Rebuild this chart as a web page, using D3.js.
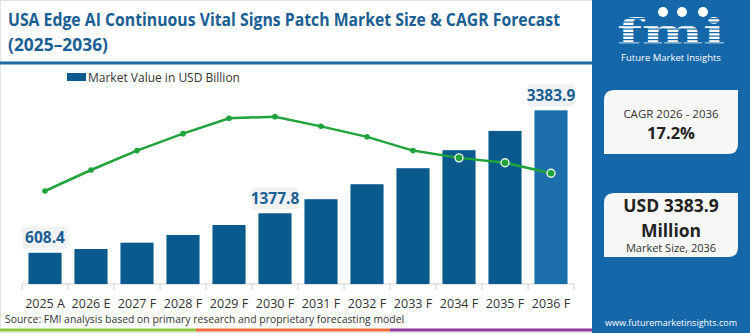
<!DOCTYPE html>
<html><head><meta charset="utf-8">
<script src="https://cdn.jsdelivr.net/npm/d3@7"></script>
<style>body{margin:0;background:#fff}svg{display:block}</style>
</head><body>
<svg id="c" width="750" height="333"></svg>
<script>
const categories = ["2025 A","2026 E","2027 F","2028 F","2029 F","2030 F","2031 F","2032 F","2033 F","2034 F","2035 F","2036 F"];
const marketValues = [608.4, 682, 805, 955, 1150, 1377.8, 1652, 1944, 2256, 2607, 2983, 3383.9];
const trendValues = [10.0, 12.6, 15.0, 17.1, 19.0, 19.2, 18.0, 16.7, 15.0, 14.1, 13.5, 12.2];
const labelledYears = ["2025 A","2030 F","2036 F"];
const titleLines = ["USA Edge AI Continuous Vital Signs Patch Market Size & CAGR Forecast","(2025\u20132036)"];
const legendLabel = "Market Value in USD Billion";
const cagrLabel = "CAGR 2026 - 2036", cagrValue = "17.2%";
const sizeLines = ["USD 3383.9","Million"], sizeCaption = "Market Size, 2036";
const sourceText = "Source: FMI analysis based on primary research and proprietary forecasting model";

const FONT = "'Open Sans', sans-serif";
const svg = d3.select("#c");
const blue = "#0a5a8e", blueLast = "#1c6fab", titleBlue = "#1a5e94", green = "#1fa33a";

// chart frame
svg.append("rect").attr("x",0.5).attr("y",0.5).attr("width",592).attr("height",332).attr("fill","#fff").attr("stroke","#e2e2e2");

// title
svg.append("text").attr("x",8).attr("y",26).attr("font-family",FONT).attr("font-weight",700)
  .attr("font-size",17.5).attr("fill",titleBlue).attr("textLength",552).attr("lengthAdjust","spacingAndGlyphs").text(titleLines[0]);
svg.append("text").attr("x",8).attr("y",51).attr("font-family",FONT).attr("font-weight",700)
  .attr("font-size",17.5).attr("fill",titleBlue).attr("textLength",100).attr("lengthAdjust","spacingAndGlyphs").text(titleLines[1]);
svg.append("rect").attr("x",0).attr("y",61.5).attr("width",592).attr("height",3).attr("fill","#1b6aa5");

// legend
svg.append("rect").attr("x",67).attr("y",73).attr("width",19).attr("height",8).attr("fill",blue);
svg.append("text").attr("x",88).attr("y",81.5).attr("font-family",FONT).attr("font-size",12).attr("fill","#333").text(legendLabel);

const x = d3.scaleBand().domain(categories).range([22,574]).paddingInner(0.28).paddingOuter(0.14);
const y = d3.scaleLinear().domain([0,4000]).range([284,78.7]);
const yT = d3.scaleLinear().domain([10,20]).range([191,110.2]);

// axis
const axis = svg.append("g").attr("transform","translate(0,284)");
axis.append("line").attr("x1",22).attr("x2",574).attr("stroke","#d0d0d0");
axis.selectAll(".tk").data(d3.range(categories.length+1)).join("line")
  .attr("x1",i=>22+i*x.step()).attr("x2",i=>22+i*x.step()).attr("y1",0).attr("y2",6).attr("stroke","#d0d0d0");
axis.selectAll(".lb").data(categories).join("text")
  .attr("x",d=>x(d)+x.bandwidth()/2).attr("y",24).attr("text-anchor","middle")
  .attr("font-family",FONT).attr("font-size",12.5).attr("fill","#333").text(d=>d);

// bars
svg.append("g").selectAll("rect").data(categories).join("rect")
  .attr("x",d=>x(d)).attr("width",x.bandwidth())
  .attr("y",(d,i)=>y(marketValues[i])).attr("height",(d,i)=>284-y(marketValues[i]))
  .attr("fill",(d,i)=>i===categories.length-1?blueLast:blue);

// value labels
const lab = svg.append("g").selectAll("g").data(labelledYears).join("g")
  .attr("transform",d=>{const i=categories.indexOf(d);return `translate(${x(d)+x.bandwidth()/2},${y(marketValues[i])-4})`;});
lab.append("rect").attr("x",-23).attr("y",-22).attr("width",46).attr("height",22).attr("fill","#f0f1f3");
lab.append("text").attr("y",-5.5).attr("text-anchor","middle").attr("font-family",FONT).attr("font-weight",700)
  .attr("font-size",15.5).attr("fill",titleBlue).text(d=>marketValues[categories.indexOf(d)].toFixed(1));

// trend line
const line = d3.line().x((d,i)=>x(categories[i])+x.bandwidth()/2).y(d=>yT(d));
svg.append("path").datum(trendValues).attr("d",line).attr("fill","none").attr("stroke",green).attr("stroke-width",2.5);
svg.append("g").selectAll("circle").data(trendValues).join("circle")
  .attr("cx",(d,i)=>x(categories[i])+x.bandwidth()/2).attr("cy",d=>yT(d))
  .attr("r",(d,i)=>i>=9?4:2.8).attr("fill",green)
  .attr("stroke",(d,i)=>i>=9?"#e8f5ea":"none").attr("stroke-width",1.4);

// source and strip
svg.append("text").attr("x",5).attr("y",323).attr("font-family",FONT).attr("font-size",10.4).attr("fill","#333").text(sourceText);
svg.append("rect").attr("x",0).attr("y",328.5).attr("width",196).attr("height",3).attr("fill","#8cc63f");
svg.append("rect").attr("x",196).attr("y",328.5).attr("width",194).attr("height",3).attr("fill","#f26b3a");
svg.append("rect").attr("x",390).attr("y",328.5).attr("width",203).attr("height",3).attr("fill","#8b3a9c");

// right panel
const P = svg.append("g");
P.append("rect").attr("x",592).attr("y",0).attr("width",158).attr("height",333).attr("fill","#1467a8");
// logo
const logo = P.append("g");
logo.append("text").attr("x",617).attr("y",44).attr("font-family","'DejaVu Serif', serif")
  .attr("font-weight",700).attr("font-size",36).attr("fill","#fff").attr("textLength",108).attr("lengthAdjust","spacingAndGlyphs").text("fmi");
logo.selectAll(".st").data(d3.range(8)).join("rect").attr("x",615).attr("y",i=>18+i*3.5).attr("width",115).attr("height",1.2).attr("fill","#1467a8");
[[663,12],[682,12],[703,12]].forEach(([cx,cy])=>logo.append("circle").attr("cx",cx).attr("cy",cy).attr("r",5).attr("fill","#fff"));
logo.append("text").attr("x",671).attr("y",61).attr("text-anchor","middle").attr("font-family",FONT).attr("font-size",9.5).attr("fill","#fff").text("Future Market Insights");

function card(y0,h){
  const x0=604,w=134,r=10;
  P.append("path").attr("d",`M${x0+r},${y0}H${x0+w}V${y0+h-r}Q${x0+w},${y0+h} ${x0+w-r},${y0+h}H${x0}V${y0+r}Q${x0},${y0} ${x0+r},${y0}Z`).attr("fill","#f7f7f7");
}
card(90,64);
P.append("text").attr("x",671).attr("y",118).attr("text-anchor","middle").attr("font-family",FONT).attr("font-size",11.5).attr("fill","#333").text(cagrLabel);
P.append("text").attr("x",671).attr("y",139).attr("text-anchor","middle").attr("font-family",FONT).attr("font-weight",700).attr("font-size",16.5).attr("fill","#222").text(cagrValue);
card(193,64);
P.append("text").attr("x",671).attr("y",212).attr("text-anchor","middle").attr("font-family",FONT).attr("font-weight",700).attr("font-size",17.5).attr("fill","#222").text(sizeLines[0]);
P.append("text").attr("x",671).attr("y",237).attr("text-anchor","middle").attr("font-family",FONT).attr("font-weight",700).attr("font-size",17.5).attr("fill","#222").text(sizeLines[1]);
P.append("text").attr("x",671).attr("y",252).attr("text-anchor","middle").attr("font-family",FONT).attr("font-size",11).attr("fill","#333").text(sizeCaption);
P.append("text").attr("x",671).attr("y",326).attr("text-anchor","middle").attr("font-family",FONT).attr("font-size",9).attr("fill","#fff").text("www.futuremarketinsights.com");
</script>
</body></html>
